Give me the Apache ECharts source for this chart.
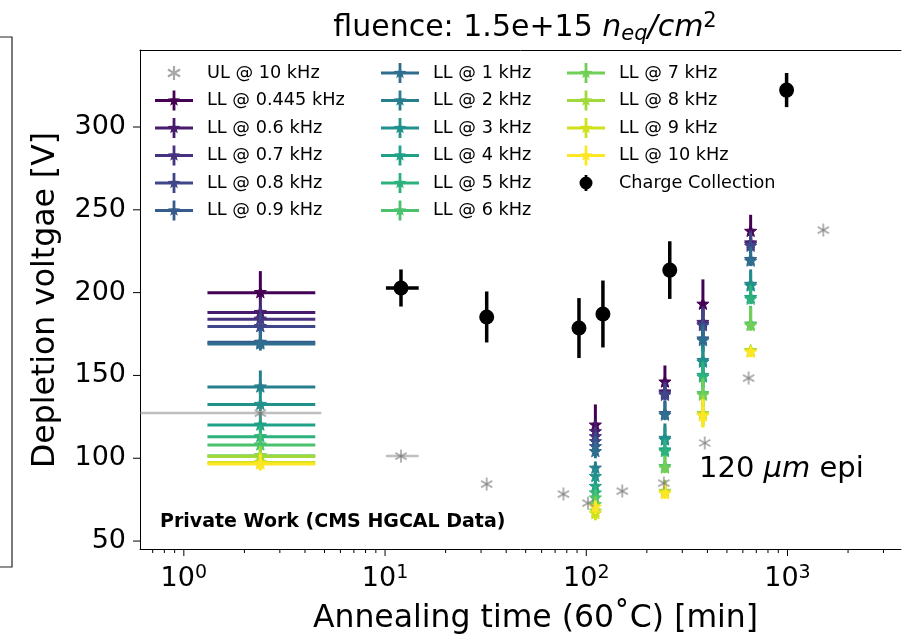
<!DOCTYPE html>
<html>
<head>
<meta charset="utf-8">
<script src="https://cdn.jsdelivr.net/npm/echarts@6/dist/echarts.min.js"></script>
<style>
html, body { margin: 0; padding: 0; background: #fff; }
#chart { width: 904px; height: 640px; }
</style>
</head>
<body>
<div id="chart"></div>
<script>
// ---- data ----
// UL @ 10 kHz (grey)
var ulTime = [2.4, 12, 32, 77, 102, 151, 243, 388, 641, 1507];
var ulVolt = [127.3, 101.3, 84.4, 78.4, 72.9, 80.2, 85, 109.2, 148.4, 237.8];
var ulTimeErrLo = [2.3, 1.9, 0, 0, 0, 0, 0, 0, 0, 0];
var ulTimeErrHi = [2.42, 2.7, 0, 0, 0, 0, 0, 0, 0, 0];

// Charge Collection (black)
var ccTime = [12, 32, 92, 121, 260, 990];
var ccVolt = [202.8, 185.3, 178.6, 187.1, 213.6, 322.3];
var ccVoltErr = [11.2, 15.4, 18.1, 20.2, 17.4, 10.3];
var ccTimeErrLo = [1.9, 0, 0, 0, 0, 0];
var ccTimeErrHi = [2.7, 0, 0, 0, 0, 0];

// LL series, one value per frequency at each annealing time
var llFreqs = ['0.445', '0.6', '0.7', '0.8', '0.9', '1', '2', '3', '4', '5', '6', '7', '8', '9', '10'];
var llColors = ['#440154', '#481b6d', '#46327e', '#3f4788', '#365c8d', '#2e6e8e', '#277f8e', '#21918c',
                '#1fa187', '#2db27d', '#4ac16d', '#71cf57', '#a0da39', '#d0e11c', '#fde725'];
var llTimes = [2.4, 111, 246, 380, 656];
var llTimeErrLo = [1.09, 0, 0, 0, 0];
var llTimeErrHi = [2.1, 0, 0, 0, 0];
var llVolt2p4 = [200, 188, 184, 179.5, 170, 169, 143, 132.5, 120, 113, 108, 101.5, 101, 97.5, 96.5];
var llVolt111 = [120, 116, 113, 110, 107, 104, 94, 89, 83, 79, 76, 72, 68, 66.5, 70.5];
var llVolt246 = [146, 140, 139, 138, 127, 126, 112, 111, 105, 104, 95, 94, 80, 79, 78.5];
var llVolt380 = [193, 182, 181, 180, 172, 171, 159, 158, 150, 149, 139, 138, 127, 126, 125.5];
var llVolt656 = [237, 230, 229, 228, 220, 219, 205, 204, 197, 196, 181, 180, 165, 164.5, 164];
var llUp2p4 = [13, 9, 8, 8, 8, 8, 10, 9, 8, 7, 7, 6, 6, 6, 6];
var llUp111 = [12.5, 7, 6, 6, 6, 6, 4, 5, 5, 5, 5, 5, 5, 4, 4];
var llUp246 = [10, 7, 7, 7, 8, 8, 9, 8, 7, 7, 7, 7, 7, 6, 6];
var llUp380 = [15, 10, 10, 10, 9, 9, 10, 9, 9, 9, 10, 10, 11, 10, 10];
var llUp656 = [10, 8, 8, 8, 8, 8, 9, 8, 8, 8, 11, 11, 2, 2, 2];
var llDown = [4, 4, 3, 7, 3];

// axes (the right end of the frame runs past the picture edge)
var xMin = 0.6055, xMax = 3666, yMin = 45.2, yMax = 346.5;
var xMajorTicks = [1, 10, 100, 1000];
var xTickExp = ['0', '1', '2', '3'];
var xMinorTicks = [0.7, 0.8, 0.9, 2, 3, 4, 5, 6, 7, 8, 9, 20, 30, 40, 50, 60, 70, 80, 90,
                   200, 300, 400, 500, 600, 700, 800, 900, 2000, 3000];
var yTicks = [50, 100, 150, 200, 250, 300];

var FONT = 'DejaVu Sans';

// ---- marker helpers ----
function starPoints(cx, cy, R, r) {
  var pts = [];
  for (var k = 0; k < 10; k++) {
    var a = -Math.PI / 2 + k * Math.PI / 5;
    var rr = k % 2 === 0 ? R : r;
    pts.push([cx + rr * Math.cos(a), cy + rr * Math.sin(a)]);
  }
  return pts;
}

function marker(kind, c, color) {
  if (kind === 'star') {
    return {type: 'polygon', shape: {points: starPoints(c[0], c[1], 6.4, 2.7)},
            style: {fill: color, stroke: color, lineWidth: 1}};
  }
  if (kind === 'circle') {
    return {type: 'circle', shape: {cx: c[0], cy: c[1], r: 7.5}, style: {fill: color}};
  }
  // asterisk
  var kids = [];
  [Math.PI / 2, Math.PI / 6, 5 * Math.PI / 6].forEach(function (a) {
    var dx = 6.5 * Math.cos(a), dy = 6.5 * Math.sin(a);
    kids.push({type: 'line', shape: {x1: c[0] - dx, y1: c[1] - dy, x2: c[0] + dx, y2: c[1] + dy},
               style: {stroke: color, lineWidth: 2, opacity: 0.6}});
  });
  return {type: 'group', children: kids};
}

function errorRender(kind, color, lw, opacity) {
  return function (params, api) {
    var c = api.coord([api.value(0), api.value(1)]);
    var lo = api.coord([api.value(2), api.value(4)]);
    var hi = api.coord([api.value(3), api.value(5)]);
    var kids = [];
    var ls = {stroke: color, lineWidth: lw, opacity: opacity};
    if (hi[0] - lo[0] > 0.5) {
      kids.push({type: 'line', shape: {x1: lo[0], y1: c[1], x2: hi[0], y2: c[1]}, style: ls});
    }
    if (lo[1] - hi[1] > 0.5) {
      kids.push({type: 'line', shape: {x1: c[0], y1: lo[1], x2: c[0], y2: hi[1]}, style: ls});
    }
    kids.push(marker(kind, c, color));
    return {type: 'group', children: kids};
  };
}

// ---- build series ----
var llCols = [llVolt2p4, llVolt111, llVolt246, llVolt380, llVolt656];
var llUps = [llUp2p4, llUp111, llUp246, llUp380, llUp656];
var series = [];
llFreqs.forEach(function (f, i) {
  var data = llTimes.map(function (t, j) {
    var v = llCols[j][i];
    return [t, v, t - llTimeErrLo[j], t + llTimeErrHi[j], v - llDown[j], v + llUps[j][i]];
  });
  series.push({
    name: 'LL @ ' + f + ' kHz', type: 'custom', clip: true, silent: true,
    itemStyle: {color: llColors[i]},
    renderItem: errorRender('star', llColors[i], 3, 1),
    encode: {x: 0, y: 1}, data: data
  });
});
series.push({
  name: 'UL @ 10 kHz', type: 'custom', clip: true, silent: true,
  itemStyle: {color: '#a0a0a0'},
  renderItem: errorRender('asterisk', '#808080', 2.5, 0.5),
  encode: {x: 0, y: 1},
  data: ulTime.map(function (t, i) {
    return [t, ulVolt[i], t - ulTimeErrLo[i], t + ulTimeErrHi[i], ulVolt[i], ulVolt[i]];
  })
});
series.push({
  name: 'Charge Collection', type: 'custom', clip: true, silent: true,
  itemStyle: {color: '#000'},
  renderItem: errorRender('circle', '#000', 3.5, 1),
  encode: {x: 0, y: 1},
  data: ccTime.map(function (t, i) {
    return [t, ccVolt[i], t - ccTimeErrLo[i], t + ccTimeErrHi[i], ccVolt[i] - ccVoltErr[i], ccVolt[i] + ccVoltErr[i]];
  })
});

// axis ticks (matplotlib style, pointing out)
var tickData = [];
xMajorTicks.forEach(function (v) { tickData.push([v, yMin, 0]); });
xMinorTicks.forEach(function (v) { tickData.push([v, yMin, 1]); });
yTicks.forEach(function (v) { tickData.push([xMin, v, 2]); });
series.push({
  type: 'custom', silent: true, clip: false, encode: {x: 0, y: 1}, data: tickData,
  renderItem: function (params, api) {
    var c = api.coord([api.value(0), api.value(1)]);
    var k = api.value(2);
    var s = {stroke: '#000', lineWidth: 1};
    if (k === 2) return {type: 'line', shape: {x1: c[0], y1: c[1], x2: c[0] - 7, y2: c[1]}, style: s};
    var len = k === 0 ? 7 : 4;
    return {type: 'line', shape: {x1: c[0], y1: c[1], x2: c[0], y2: c[1] + len}, style: s};
  }
});

// ---- legend icons ----
var specks = 'M0 0h0.01v0.01h-0.01Z M37.99 19.99h0.01v0.01h-0.01Z ';
var iconLL = 'path://' + specks + 'M0 8.6H38V11.4H0Z M17.6 0H20.4V20H17.6Z ' +
  'M19 3.5L20.59 7.82L25.18 7.99L21.57 10.83L22.82 15.26L19 12.7L15.18 15.26L16.43 10.83L12.82 7.99L17.41 7.82Z';
var iconUL = 'path://' + specks + 'M17.9 3H20.1V17H17.9Z ' +
  'M12.39 7.45L13.49 5.55L25.61 12.55L24.51 14.45Z M12.39 12.55L24.51 5.55L25.61 7.45L13.49 14.45Z';
var iconCC = 'path://' + specks + 'M17.6 2H20.4V18H17.6Z M12.5 10A6.5 6.5 0 1 1 25.5 10A6.5 6.5 0 1 1 12.5 10Z';

function legendItem(i) {
  return {name: 'LL @ ' + llFreqs[i] + ' kHz', icon: iconLL, itemStyle: {color: llColors[i]}};
}
function legendBox(left, items) {
  return {
    orient: 'vertical', left: left, top: 63, padding: 0,
    itemWidth: 38, itemHeight: 20, itemGap: 7.5, selectedMode: false,
    textStyle: {fontFamily: FONT, fontSize: 17.7, color: '#000', padding: [0, 0, 0, 9]},
    data: items
  };
}

var spine = {show: true, onZero: false, lineStyle: {color: '#000', width: 1}};

var option = {
  animation: false,
  textStyle: {fontFamily: FONT},
  grid: {left: 140, top: 50, right: 0, bottom: 91},
  xAxis: [{
    type: 'log', logBase: 10, min: xMin, max: xMax, position: 'bottom',
    axisLine: spine, axisTick: {show: false}, splitLine: {show: false},
    axisLabel: {
      margin: 15,
      formatter: function (v) {
        var p = Math.log10(v);
        var i = xMajorTicks.indexOf(Math.pow(10, Math.round(p)));
        if (Math.abs(p - Math.round(p)) > 1e-6 || i < 0) return '';
        return '{b|10}{s|' + xTickExp[i] + '}';
      },
      rich: {
        b: {fontSize: 27, fontFamily: FONT, color: '#000', lineHeight: 30},
        s: {fontSize: 19, fontFamily: FONT, color: '#000', lineHeight: 10, verticalAlign: 'top'}
      }
    }
  }, {
    // top spine only
    type: 'log', logBase: 10, min: xMin, max: xMax, position: 'top',
    axisLine: spine, axisTick: {show: false}, axisLabel: {show: false}, splitLine: {show: false}
  }],
  yAxis: {
    type: 'value', min: yMin, max: yMax, splitNumber: 6,
    axisLine: spine, axisTick: {show: false}, splitLine: {show: false},
    axisLabel: {
      margin: 14, fontSize: 27, fontFamily: FONT, color: '#000',
      formatter: function (v) { return yTicks.indexOf(v) >= 0 ? String(v) : ''; }
    }
  },
  legend: [
    legendBox(155, [{name: 'UL @ 10 kHz', icon: iconUL, itemStyle: {color: '#a8a8a8'}}]
      .concat([0, 1, 2, 3, 4].map(legendItem))),
    legendBox(381, [5, 6, 7, 8, 9, 10].map(legendItem)),
    legendBox(567, [11, 12, 13, 14].map(legendItem)
      .concat([{name: 'Charge Collection', icon: iconCC, itemStyle: {color: '#000'}}]))
  ],
  graphic: [
    {
      type: 'text', x: 525, y: 28, silent: true,
      style: {
        text: '{r|fluence: 1.5e+15 }{i|n}{sub|eq}{i|/cm}{sup|2}',
        align: 'center', verticalAlign: 'middle', textAlign: 'center', textVerticalAlign: 'middle',
        rich: {
          r: {fontSize: 30, fontFamily: FONT, fill: '#000', lineHeight: 34},
          i: {fontSize: 30, fontFamily: FONT, fontStyle: 'italic', fill: '#000', lineHeight: 34},
          sub: {fontSize: 21, fontFamily: FONT, fontStyle: 'italic', fill: '#000', lineHeight: 20, verticalAlign: 'bottom'},
          sup: {fontSize: 21, fontFamily: FONT, fill: '#000', lineHeight: 12, verticalAlign: 'top'}
        }
      }
    },
    {
      type: 'text', x: 46, y: 300, rotation: Math.PI / 2, silent: true,
      style: {text: 'Depletion voltgae [V]', fontSize: 31.5, fontFamily: FONT, fill: '#000',
              align: 'center', verticalAlign: 'middle', textAlign: 'center', textVerticalAlign: 'middle'}
    },
    {
      type: 'text', x: 535.5, y: 619, silent: true,
      style: {text: 'Annealing time (60˚C) [min]', fontSize: 31.5, fontFamily: FONT, fill: '#000',
              align: 'center', verticalAlign: 'middle', textAlign: 'center', textVerticalAlign: 'middle'}
    },
    {
      type: 'text', x: 699, y: 469, silent: true,
      style: {
        text: '{r|120 }{i|µm}{r| epi}',
        align: 'left', verticalAlign: 'middle', textAlign: 'left', textVerticalAlign: 'middle',
        rich: {
          r: {fontSize: 29, fontFamily: FONT, fill: '#000'},
          i: {fontSize: 29, fontFamily: FONT, fontStyle: 'italic', fill: '#000'}
        }
      }
    },
    {
      type: 'text', x: 160, y: 522, silent: true,
      style: {text: 'Private Work (CMS HGCAL Data)', fontSize: 19, fontWeight: 'bold', fontFamily: FONT,
              fill: '#000', align: 'left', verticalAlign: 'middle', textAlign: 'left', textVerticalAlign: 'middle'}
    },
    {
      // edge of the neighbouring panel, cut off on the left
      type: 'polyline', silent: true,
      shape: {points: [[0, 37], [12, 37], [12, 567], [0, 567]]},
      style: {stroke: '#222', lineWidth: 1.2, fill: null}
    }
  ],
  series: series
};

var chart = echarts.init(document.getElementById('chart'));
chart.setOption(option);
</script>
</body>
</html>
